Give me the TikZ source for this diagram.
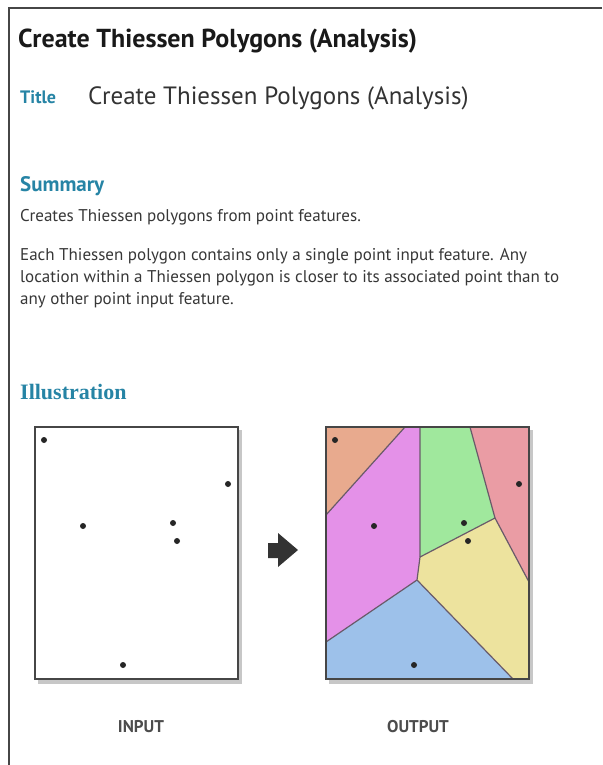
\documentclass[tikz,border=0pt]{standalone}
\usepackage{fontspec}
\setmainfont{PT Sans}
\newfontfamily\serifhead{Liberation Serif}
\usetikzlibrary{positioning}

\definecolor{docteal}{RGB}{38,132,165}
\definecolor{doctext}{RGB}{55,55,55}
\definecolor{framegray}{RGB}{70,70,70}
\definecolor{edgegray}{RGB}{105,90,105}
\definecolor{cellorange}{RGB}{232,170,142}
\definecolor{cellpink}{RGB}{228,145,232}
\definecolor{cellgreen}{RGB}{160,232,157}
\definecolor{cellred}{RGB}{234,156,164}
\definecolor{cellyellow}{RGB}{237,227,158}
\definecolor{cellblue}{RGB}{157,193,234}

\begin{document}
\begin{tikzpicture}[x=1pt, y=-1pt,
  bigtitle/.style={anchor=base west, inner sep=0pt, text=black!90,
                   font=\bfseries\fontsize{26}{30}\selectfont},
  tealhead/.style={anchor=base west, inner sep=0pt, text=docteal,
                   font=\bfseries\fontsize{21}{24}\selectfont},
  bodyline/.style={anchor=base west, inner sep=0pt, text=doctext,
                   font=\fontsize{17}{20}\selectfont},
  caption/.style={anchor=base, inner sep=0pt, text=black!70,
                  font=\bfseries\fontsize{17}{20}\selectfont},
  panel/.style={draw=framegray, line width=1.6pt},
  cell/.style={draw=edgegray, line width=1.2pt, line join=round},
  dot/.style={fill=black!85}]

  \useasboundingbox[fill=white] (0,0) rectangle (602,765);

  % page frame
  \draw[framegray, line width=2pt] (9,765) -- (9,8) -- (602,8);

  % header texts
  \node[bigtitle] (heading) at (18,48) {Create Thiessen Polygons (Analysis)};
  \node[tealhead, font=\bfseries\fontsize{18}{21}\selectfont] (titlekey) at (20,104) {Title};
  \node[bodyline, font=\fontsize{25}{29}\selectfont, text=black!80] (titleval) at (88,105)
    {Create Thiessen Polygons (Analysis)};
  \node[tealhead] (summary) at (20,191) {Summary};
  \node[bodyline] (line1) at (20,221) {Creates Thiessen polygons from point features.};
  \node[bodyline] (line2) at (20,260) {Each Thiessen polygon contains only a single point input feature. Any};
  \node[bodyline] (line3) at (20,282) {location within a Thiessen polygon is closer to its associated point than to};
  \node[bodyline] (line4) at (20,304) {any other point input feature.};
  \node[tealhead, font=\serifhead\bfseries\fontsize{22}{25}\selectfont] (illus) at (20,399) {Illustration};

  % input panel
  \fill[black!22] (38,430) rectangle (242,684);
  \draw[panel, fill=white] (35,427) rectangle (238,679);
  \foreach \px/\py in {44/440, 228/484, 83/526, 173/523, 177/541, 123/665}
    \fill[dot] (\px,\py) circle (3);

  % arrow between the panels
  \fill[black!80] (268,543) -- (278,543) -- (278,533) -- (298,550)
    -- (278,567) -- (278,558) -- (268,558) -- cycle;

  % output panel
  \fill[black!22] (329,430) rectangle (533,684);
  \coordinate (ta) at (405,427);
  \coordinate (tc) at (420,427);
  \coordinate (ti) at (470,427);
  \coordinate (lb) at (326,515);
  \coordinate (lf) at (326,642);
  \coordinate (vd) at (420,557);
  \coordinate (ve) at (417,580);
  \coordinate (vh) at (495,518);
  \coordinate (rj) at (529,582);
  \coordinate (bg) at (513,679);
  \fill[cellorange] (326,427) -- (ta) -- (lb) -- cycle;
  \fill[cellpink] (ta) -- (tc) -- (vd) -- (ve) -- (lf) -- (lb) -- cycle;
  \fill[cellgreen] (tc) -- (ti) -- (vh) -- (vd) -- cycle;
  \fill[cellred] (ti) -- (529,427) -- (rj) -- (vh) -- cycle;
  \fill[cellyellow] (vd) -- (vh) -- (rj) -- (529,679) -- (bg) -- (ve) -- cycle;
  \fill[cellblue] (lf) -- (ve) -- (bg) -- (326,679) -- cycle;
  \draw[cell] (ta) -- (lb);
  \draw[cell] (tc) -- (vd) -- (ve) -- (lf);
  \draw[cell] (ve) -- (bg);
  \draw[cell] (vd) -- (vh) -- (rj);
  \draw[cell] (ti) -- (vh);
  \draw[panel] (326,427) rectangle (529,679);
  \foreach \px/\py in {335/440, 519/484, 374/526, 464/523, 468/541, 414/665}
    \fill[dot] (\px,\py) circle (3);

  % captions
  \node[caption] (inlabel) at (141,732) {INPUT};
  \node[caption] (outlabel) at (418,732) {OUTPUT};
\end{tikzpicture}
\end{document}
